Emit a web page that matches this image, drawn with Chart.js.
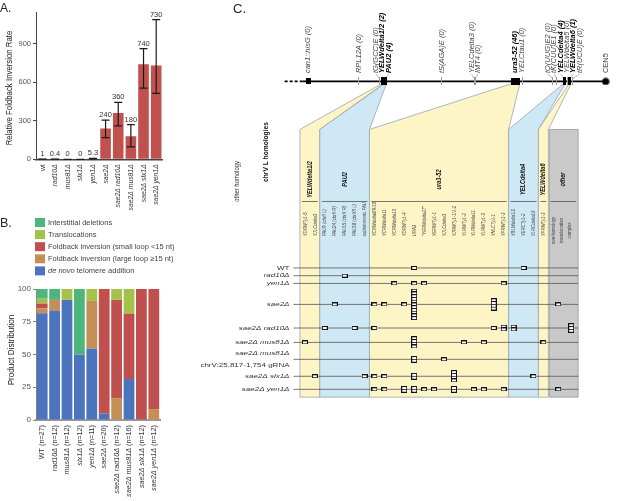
<!DOCTYPE html>
<html>
<head>
<meta charset="utf-8">
<title>Foldback inversions</title>
<script src="https://cdn.jsdelivr.net/npm/chart.js@4.4.1/dist/chart.umd.min.js"></script>
<style>
    html, body { margin: 0; padding: 0; background: #fff; }
    body { width: 617px; height: 501px; position: relative; overflow: hidden; }
    canvas { position: absolute; display: block; }
    #grafico_a { left: 0; top: 0; }
    #grafico_b { left: 0; top: 212px; }
    #grafico_c { left: 180px; top: 0; }
</style>
</head>
<body>
<canvas id="grafico_a" width="175" height="212"></canvas>
<canvas id="grafico_b" width="175" height="289"></canvas>
<canvas id="grafico_c" width="437" height="501"></canvas>
<script>
//? Painel A: taxa relativa de inversão foldback
let cepas_a = ["wt", "rad10Δ", "mus81Δ", "slx1Δ", "yen1Δ", "sae2Δ", "sae2Δ rad10Δ", "sae2Δ mus81Δ", "sae2Δ slx1Δ", "sae2Δ yen1Δ"];
let taxa_a = [1, 0.4, 0, 0, 5.3, 240, 360, 180, 740, 730];
let taxa_a_min = [0.6, 0.2, 0, 0, 3.5, 169, 260, 96, 553, 512];
let taxa_a_max = [1.4, 0.6, 0, 0, 7.5, 304, 442, 270, 860, 1086];
let taxa_a_texto = ["1", "0.4", "0", "0", "5.3", "240", "360", "180", "740", "730"];
let ticks_a = [0, 300, 600, 900];

//? Painel B: distribuição dos produtos (contagens por cepa)
let cepas_b = ["WT", "rad10Δ", "mus81Δ", "slx1Δ", "yen1Δ", "sae2Δ", "sae2Δ rad10Δ", "sae2Δ mus81Δ", "sae2Δ slx1Δ", "sae2Δ yen1Δ"];
let n_b = [27, 12, 12, 12, 11, 20, 12, 16, 12, 12];
let de_novo_b = [22, 10, 11, 6, 6, 1, 0, 5, 0, 0];
let foldback_grande_b = [1, 1, 0, 0, 4, 0, 2, 0, 0, 1];
let foldback_pequeno_b = [1, 0, 0, 0, 0, 19, 9, 8, 12, 11];
let translocacoes_b = [1, 0, 1, 0, 1, 0, 1, 3, 0, 0];
let delecoes_b = [2, 1, 0, 6, 0, 0, 0, 0, 0, 0];
let ticks_b = [0, 25, 50, 75, 100];

//? Painel C: mapa do chrV L
let locos_c = ["can1::hisG", "RPL12A", "tG(GCC)E", "YELWdelta1/2", "PAU2", "tS(AGA)E", "YELCdelta3", "IMT4", "ura3-52", "YELCtau1", "tQ(UUG)E2", "tK(CUU)E1", "YELCdelta4", "YELWdelta5", "YELWdelta6", "tR(UCU)E", "CEN5"];
let locos_contagem = [0, 0, 0, 2, 4, 0, 0, 0, 46, 0, 0, 0, 4, 0, 1, 0, null];
let locos_pos = [28.83, 40.66, 45.54, 46.22, 46.91, 60.18, 67.73, 67.96, 77.35, 78.95, 86.04, 86.96, 88.79, 89.47, 90.16, 90.85, 98.51];
let locos_tipo = ["cassete", "gene", "trna", "ty", "gene", "trna", "ty", "gene", "locus", "ty", "trna", "trna", "ty", "ty", "ty", "trna", "cen"];
let cromo_inicio = 23.34; // parte tracejada
let cromo_solido = 27.46;

let grupos_c = ["YELWdelta1/2", "PAU2", "ura3-52", "YELCdelta4", "YELWdelta6", "other"];
let grupo_loco = [3, 4, 8, 12, 14, -1];
let grupo_col_ini = [0, 2, 7, 21, 24, 25];
let grupo_col_fim = [1, 6, 20, 23, 24, 27];

let colunas_c = ["YDRWTy1-5", "YJLCdelta3", "PAU9 (chrII L)", "PAU24 (chrII R)", "PAU15 (chrX R)", "PAU18 (chrXII L)", "subtelomeric PAU",
    "YCRWdelta8/9/10", "YCRWdelta11", "YCRWdelta13", "YDRWTy1-4", "URA3", "\"YERWdelta27\"", "YGRWTy1-1", "YJLCdelta3", "YJRWTy1-1/1-2",
    "YLRWTy1-2", "YLRWdelta11", "YLRWTy1-3", "YNLCTy1-1", "YPRWTy1-3", "YBLWdelta1/2", "YERCTy1-2", "YLRCdelta16", "YPRWTy1-3"];
let outro_texto = ["non-homology", "translocation", "complex"];

let linhas_c = ["WT", "rad10Δ", "yen1Δ", "sae2Δ", "sae2Δ rad10Δ", "sae2Δ mus81Δ", "sae2Δ mus81Δ|chrV:25,817-1,754 gRNA", "sae2Δ slx1Δ", "sae2Δ yen1Δ"];
// [coluna, número de eventos empilhados]
let eventos_c = [
    [[11, 1], [22, 1]],
    [[4, 1]],
    [[9, 1], [11, 1], [12, 1], [20, 1]],
    [[3, 1], [7, 1], [8, 1], [10, 1], [11, 11], [19, 4], [25.5, 1]],
    [[2, 1], [5, 1], [7, 1], [19, 1], [20, 2], [21, 2], [26.8, 3]],
    [[0, 1], [11, 4], [16, 1], [18, 1], [24, 1]],
    [[11, 2], [14, 1]],
    [[1, 1], [6, 1], [7, 1], [8, 1], [11, 2], [15, 4], [23, 1]],
    [[7, 1], [8, 1], [10, 2], [11, 2], [12, 1], [13, 1], [15, 2], [17, 1], [18, 1], [20, 1], [25.5, 1]],
];

const FONTE = '"Liberation Sans", Arial, sans-serif';
const AMARELO = "#fdf5c6";
const AZUL = "#cfe8f5";
const CINZA = "#c9c9c9";
const cor_grupo = [AMARELO, AZUL, AMARELO, AZUL, AMARELO, CINZA];

//* helpers de texto
function texto_v(ctx, txt, x, y, fonte, alinh, sx, cor) {
    ctx.save();
    ctx.translate(x, y);
    ctx.rotate(-Math.PI / 2);
    ctx.scale(sx, 1);
    ctx.font = fonte;
    ctx.fillStyle = cor;
    ctx.textAlign = alinh;
    ctx.textBaseline = "middle";
    ctx.fillText(txt, 0, 0);
    ctx.restore();
}

function texto_h(ctx, txt, x, y, fonte, alinh, sy, cor) {
    ctx.save();
    ctx.translate(x, y);
    ctx.scale(1, sy);
    ctx.font = fonte;
    ctx.fillStyle = cor;
    ctx.textAlign = alinh;
    ctx.textBaseline = "middle";
    ctx.fillText(txt, 0, 0);
    ctx.restore();
}

// partes: [[texto, italico]] desenhadas girando -90, terminando em (x, y)
function partes_v(ctx, partes, x, y, tam, sx, cor) {
    ctx.save();
    ctx.translate(x, y);
    ctx.rotate(-Math.PI / 2);
    ctx.scale(sx, 1);
    ctx.fillStyle = cor;
    ctx.textBaseline = "middle";
    ctx.textAlign = "left";
    let largura = 0;
    partes.forEach((p) => {
        ctx.font = (p[1] ? "italic " : "") + tam + "px " + FONTE;
        largura += ctx.measureText(p[0]).width;
    });
    let cx = -largura;
    partes.forEach((p) => {
        ctx.font = (p[1] ? "italic " : "") + tam + "px " + FONTE;
        ctx.fillText(p[0], cx, 0);
        cx += ctx.measureText(p[0]).width;
    });
    ctx.restore();
}

function partes_cepa(nome) {
    return [[nome, nome !== "WT" && nome !== "wt"]];
}

// ---------------- Painel A ----------------
const plugin_a = {
    id: "plugin_a",
    afterDatasetsDraw(chart) {
        const { ctx, scales: { y } } = chart;
        const meta = chart.getDatasetMeta(0);
        ctx.save();
        meta.data.forEach((bar, i) => {
            const yl = y.getPixelForValue(taxa_a_min[i]);
            const yh = y.getPixelForValue(taxa_a_max[i]);
            ctx.strokeStyle = "#1a1a1a";
            ctx.lineWidth = 1.2;
            ctx.beginPath();
            ctx.moveTo(bar.x, yl);
            ctx.lineTo(bar.x, yh);
            ctx.moveTo(bar.x - 4, yl);
            ctx.lineTo(bar.x + 4, yl);
            ctx.moveTo(bar.x - 4, yh);
            ctx.lineTo(bar.x + 4, yh);
            ctx.stroke();
            const topo = Math.min(yh, bar.y);
            ctx.font = "7.5px " + FONTE;
            ctx.fillStyle = "#333";
            ctx.textAlign = "center";
            ctx.textBaseline = "alphabetic";
            ctx.fillText(taxa_a_texto[i], bar.x, topo - 3);
        });
        ctx.restore();
    },
    afterDraw(chart) {
        const { ctx, chartArea, scales: { x } } = chart;
        cepas_a.forEach((c, i) => {
            partes_v(ctx, partes_cepa(c), x.getPixelForTick(i), chartArea.bottom + 5, 8, 0.85, "#333");
        });
        texto_v(ctx, "Relative Foldback Inversion Rate", 10, 88, "8.5px " + FONTE, "center", 0.92, "#222");
        ctx.font = "12px " + FONTE;
        ctx.fillStyle = "#222";
        ctx.textAlign = "left";
        ctx.textBaseline = "alphabetic";
        ctx.fillText("A.", 0, 11.7);
    },
};

new Chart("grafico_a", {
    type: "bar",
    data: {
        labels: cepas_a,
        datasets: [
            {
                data: taxa_a,
                backgroundColor: "#c1514e",
                barPercentage: 0.84,
                categoryPercentage: 1,
            },
        ],
    },
    options: {
        responsive: false,
        animation: false,
        layout: { padding: { top: 12.7, right: 12.5, left: 0, bottom: 0 } },
        plugins: { legend: { display: false }, tooltip: { enabled: false } },
        scales: {
            x: {
                grid: { display: false },
                border: { color: "#444", width: 1.5 },
                ticks: { display: false },
                afterFit: (s) => { s.height = 52.7; },
            },
            y: {
                min: 0,
                max: 1140,
                afterBuildTicks: (s) => { s.ticks = ticks_a.map((v) => ({ value: v })); },
                ticks: { font: { size: 7.5, family: FONTE }, color: "#555", padding: 2 },
                grid: { drawOnChartArea: false, tickLength: 3, color: "#444" },
                border: { color: "#444" },
                afterFit: (s) => { s.width = 36; },
            },
        },
    },
    plugins: [plugin_a],
});

// ---------------- Painel B ----------------
const pct = (arr) => arr.map((v, i) => (v / n_b[i]) * 100);

const plugin_b = {
    id: "plugin_b",
    afterDraw(chart) {
        const { ctx, chartArea, scales: { x } } = chart;
        cepas_b.forEach((c, i) => {
            const partes = partes_cepa(c).concat([[" (n=" + n_b[i] + ")", false]]);
            partes_v(ctx, partes, x.getPixelForTick(i), chartArea.bottom + 5, 8, 0.9, "#333");
        });
        texto_v(ctx, "Product Distribution", 12, 138, "9px " + FONTE, "center", 0.9, "#222");
        // legenda (ordem invertida: topo da pilha primeiro)
        const ds = chart.data.datasets.slice().reverse();
        ds.forEach((d, i) => {
            const yc = 10.5 + i * 12.1;
            ctx.fillStyle = d.backgroundColor;
            ctx.fillRect(35, yc - 4.5, 10, 9);
            ctx.fillStyle = "#444";
            ctx.textBaseline = "middle";
            ctx.textAlign = "left";
            let cx = 48;
            let partes = d.label.startsWith("de novo") ? [["de novo", true], [d.label.slice(7), false]] : [[d.label, false]];
            partes.forEach((p) => {
                ctx.font = (p[1] ? "italic " : "") + "7.5px " + FONTE;
                ctx.fillText(p[0], cx, yc);
                cx += ctx.measureText(p[0]).width;
            });
        });
        ctx.font = "12.5px " + FONTE;
        ctx.fillStyle = "#222";
        ctx.textAlign = "left";
        ctx.textBaseline = "alphabetic";
        ctx.fillText("B.", 0, 14.5);
    },
};

new Chart("grafico_b", {
    type: "bar",
    data: {
        labels: cepas_b,
        datasets: [
            { label: "de novo telomere addition", data: pct(de_novo_b), backgroundColor: "#4b73be" },
            { label: "Foldback inversion (large loop ≥15 nt)", data: pct(foldback_grande_b), backgroundColor: "#c48f56" },
            { label: "Foldback inversion (small loop <15 nt)", data: pct(foldback_pequeno_b), backgroundColor: "#c0504d" },
            { label: "Translocations", data: pct(translocacoes_b), backgroundColor: "#a5c14a" },
            { label: "Interstitial deletions", data: pct(delecoes_b), backgroundColor: "#4db67b" },
        ].map((d) => ({ ...d, barPercentage: 0.87, categoryPercentage: 1, borderWidth: 0 })),
    },
    options: {
        responsive: false,
        animation: false,
        layout: { padding: { top: 77, right: 15, left: 0, bottom: 0 } },
        plugins: { legend: { display: false }, tooltip: { enabled: false } },
        scales: {
            x: {
                stacked: true,
                grid: { display: false },
                border: { color: "#999", width: 2 },
                ticks: { display: false },
                afterFit: (s) => { s.height = 81; },
            },
            y: {
                stacked: true,
                min: 0,
                max: 100,
                afterBuildTicks: (s) => { s.ticks = ticks_b.map((v) => ({ value: v })); },
                ticks: { font: { size: 8, family: FONTE }, color: "#555", padding: 2 },
                grid: { drawOnChartArea: false, tickLength: 3, color: "#888" },
                border: { color: "#888" },
                afterFit: (s) => { s.width = 36; },
            },
        },
    },
    plugins: [plugin_b],
});

// ---------------- Painel C ----------------
// posição vertical das linhas a partir da maior pilha de cada linha
let pilha_max = eventos_c.map((r) => Math.max(...r.map((e) => e[1])));
let duas_linhas = linhas_c.map((n) => n.includes("|"));
let linha_y = [];
let yy = 268.3;
linhas_c.forEach((nome, i) => {
    if (i > 0) {
        yy += 5.2 + (2.7 * (pilha_max[i - 1] + pilha_max[i])) / 2 + (duas_linhas[i] || duas_linhas[i - 1] ? 4 : 0);
    }
    linha_y.push(yy);
});

let pontos_c = [];
eventos_c.forEach((linha, i) => {
    linha.forEach(([col, n]) => {
        for (let k = 0; k < n; k++) {
            pontos_c.push({ x: col, y: linha_y[i] + (k - (n - 1) / 2) * 2.8 });
        }
    });
});
let pontos_locos = locos_pos.map((p) => ({ x: p, y: 78 }));

function imagem(w, h, desenho) {
    const c = document.createElement("canvas");
    c.width = w;
    c.height = h;
    desenho(c.getContext("2d"));
    return c;
}
const caixa = imagem(6, 4, (g) => {
    g.fillStyle = "#fff";
    g.fillRect(0, 0, 6, 4);
    g.strokeStyle = "#111";
    g.lineWidth = 1;
    g.strokeRect(0.5, 0.5, 5, 3);
});
const marcas = {
    cassete: imagem(5, 6, (g) => { g.fillStyle = "#000"; g.fillRect(0, 0, 5, 6); }),
    locus: imagem(9, 7, (g) => { g.fillStyle = "#000"; g.fillRect(0, 0, 9, 7); }),
    hit: imagem(3, 8, (g) => { g.fillStyle = "#000"; g.fillRect(0, 0, 3, 8); }),
    tick: imagem(1, 8, (g) => { g.fillStyle = "#999"; g.fillRect(0, 0, 1, 8); }),
    cen: imagem(8, 8, (g) => { g.fillStyle = "#000"; g.beginPath(); g.arc(4, 4, 3.6, 0, Math.PI * 2); g.fill(); }),
};
function marca_loco(i) {
    const t = locos_tipo[i];
    if (t === "cassete" || t === "locus" || t === "cen") return marcas[t];
    return locos_contagem[i] > 0 ? marcas.hit : marcas.tick;
}

function espalhar(xs, gap) {
    let cl = xs.map((v) => ({ soma: v, n: 1 }));
    const primeiro = (c) => c.soma / c.n - ((c.n - 1) / 2) * gap;
    let mudou = true;
    while (mudou) {
        mudou = false;
        for (let i = 0; i < cl.length - 1; i++) {
            const a = cl[i], b = cl[i + 1];
            if (primeiro(a) + a.n * gap > primeiro(b) + 1e-6) {
                cl.splice(i, 2, { soma: a.soma + b.soma, n: a.n + b.n });
                mudou = true;
                break;
            }
        }
    }
    let out = [];
    cl.forEach((c) => { for (let k = 0; k < c.n; k++) out.push(primeiro(c) + k * gap); });
    return out;
}

const plugin_c = {
    id: "plugin_c",
    beforeDatasetsDraw(chart) {
        const { ctx, scales } = chart;
        const X = (v) => scales.x.getPixelForValue(v);
        const M = (v) => scales.x2.getPixelForValue(v);
        const Y = (v) => scales.y.getPixelForValue(v);
        const topo = Y(127);
        const fundo = Y(linha_y[linha_y.length - 1] + 8);
        const apice = Y(80.5);
        ctx.save();

        // funis e colunas
        grupos_c.forEach((g, i) => {
            const l = X(grupo_col_ini[i] - 0.5);
            const r = X(grupo_col_fim[i] + 0.5);
            ctx.beginPath();
            if (grupo_loco[i] >= 0) {
                const fx = M(locos_pos[grupo_loco[i]]);
                const hw = locos_tipo[grupo_loco[i]] === "locus" ? 4.5 : 1;
                ctx.moveTo(fx - hw, apice);
                ctx.lineTo(fx + hw, apice);
                ctx.lineTo(r, topo);
            } else {
                ctx.moveTo(l + 1, topo);
                ctx.lineTo(r, topo);
            }
            ctx.lineTo(r, fundo);
            ctx.lineTo(grupo_loco[i] >= 0 ? l : l + 1, fundo);
            ctx.lineTo(grupo_loco[i] >= 0 ? l : l + 1, topo);
            ctx.closePath();
            ctx.fillStyle = cor_grupo[i];
            ctx.fill();
            ctx.strokeStyle = grupo_loco[i] >= 0 ? "#98a6a8" : "#999";
            ctx.lineWidth = 0.8;
            ctx.stroke();

            // divisória e título do grupo
            ctx.strokeStyle = "#555";
            ctx.lineWidth = 0.8;
            ctx.beginPath();
            ctx.moveTo(l + 2, Y(200.5));
            ctx.lineTo(r - 2, Y(200.5));
            ctx.stroke();
            texto_v(ctx, g, (l + r) / 2, Y(178), "bold italic 7px " + FONTE, "center", 0.8, "#111");
        });

        // rótulos das colunas
        colunas_c.forEach((c, i) => {
            texto_v(ctx, c, X(i), Y(236), "italic 6px " + FONTE, "left", 0.72, "#444");
        });
        outro_texto.forEach((t, k) => {
            texto_v(ctx, t, X(grupo_col_ini[5] + k * 0.81), Y(230), "6px " + FONTE, "center", 0.72, "#444");
        });

        texto_v(ctx, "chrV L homologies", X(-3.9), Y(150), "bold 8px " + FONTE, "center", 0.83, "#111");
        texto_v(ctx, "other homology", X(-6.85), Y(180), "7px " + FONTE, "center", 0.84, "#333");

        // linhas das cepas
        linha_y.forEach((ly, i) => {
            ctx.strokeStyle = "#555";
            ctx.lineWidth = 0.8;
            ctx.beginPath();
            ctx.moveTo(X(-1.15), Y(ly));
            ctx.lineTo(X(grupo_col_fim[5] + 0.5), Y(ly));
            ctx.stroke();
            const partes = linhas_c[i].split("|");
            const xr = X(-1.55);
            if (partes.length === 1) {
                texto_h(ctx, partes[0], xr, Y(ly), (partes[0] === "WT" ? "" : "italic ") + "8px " + FONTE, "right", 0.78, "#333");
            } else {
                texto_h(ctx, partes[0], xr, Y(ly - 5.8), "italic 8px " + FONTE, "right", 0.78, "#333");
                texto_h(ctx, partes[1], xr, Y(ly + 6), "8px " + FONTE, "right", 0.78, "#333");
            }
        });

        // cromossomo
        ctx.strokeStyle = "#000";
        ctx.lineWidth = 1.8;
        ctx.setLineDash([3, 2]);
        ctx.beginPath();
        ctx.moveTo(M(cromo_inicio), Y(78));
        ctx.lineTo(M(cromo_solido), Y(78));
        ctx.stroke();
        ctx.setLineDash([]);
        ctx.beginPath();
        ctx.moveTo(M(cromo_solido), Y(78));
        ctx.lineTo(M(locos_pos[locos_pos.length - 1]), Y(78));
        ctx.stroke();

        // rótulos dos locos
        const xs = locos_pos.map((p) => M(p));
        const xr = espalhar(xs, 6.3);
        locos_c.forEach((nome, i) => {
            const n = locos_contagem[i];
            const txt = n === null ? nome : nome + " (" + n + ")";
            const negrito = n > 0;
            const estilo = (nome === "CEN5" ? "" : "italic ") + (negrito ? "bold " : "");
            if (Math.abs(xr[i] - xs[i]) > 0.8) {
                ctx.strokeStyle = "#888";
                ctx.lineWidth = 0.6;
                ctx.beginPath();
                ctx.moveTo(xr[i], Y(70.5));
                ctx.lineTo(xs[i], Y(75));
                ctx.stroke();
            }
            texto_v(ctx, txt, xr[i], Y(69.5), estilo + "7.5px " + FONTE, "left", 1, negrito ? "#000" : "#444");
        });

        ctx.font = "13px " + FONTE;
        ctx.fillStyle = "#222";
        ctx.textAlign = "left";
        ctx.textBaseline = "alphabetic";
        ctx.fillText("C.", 53, 13.3);
        ctx.restore();
    },
};

new Chart("grafico_c", {
    type: "scatter",
    data: {
        datasets: [
            { data: pontos_c, pointStyle: caixa, pointRadius: 3, clip: false },
            {
                data: pontos_locos,
                xAxisID: "x2",
                pointStyle: (ctx) => marca_loco(ctx.dataIndex),
                pointRadius: 3,
                clip: false,
            },
        ],
    },
    options: {
        responsive: false,
        animation: false,
        layout: { padding: 0 },
        plugins: { legend: { display: false }, tooltip: { enabled: false } },
        scales: {
            x: { type: "linear", min: -12.065, max: 30.905, display: false },
            x2: { type: "linear", min: 0, max: 100, display: false },
            y: { type: "linear", min: 0, max: 501, reverse: true, display: false },
        },
    },
    plugins: [plugin_c],
});
</script>
</body>
</html>
